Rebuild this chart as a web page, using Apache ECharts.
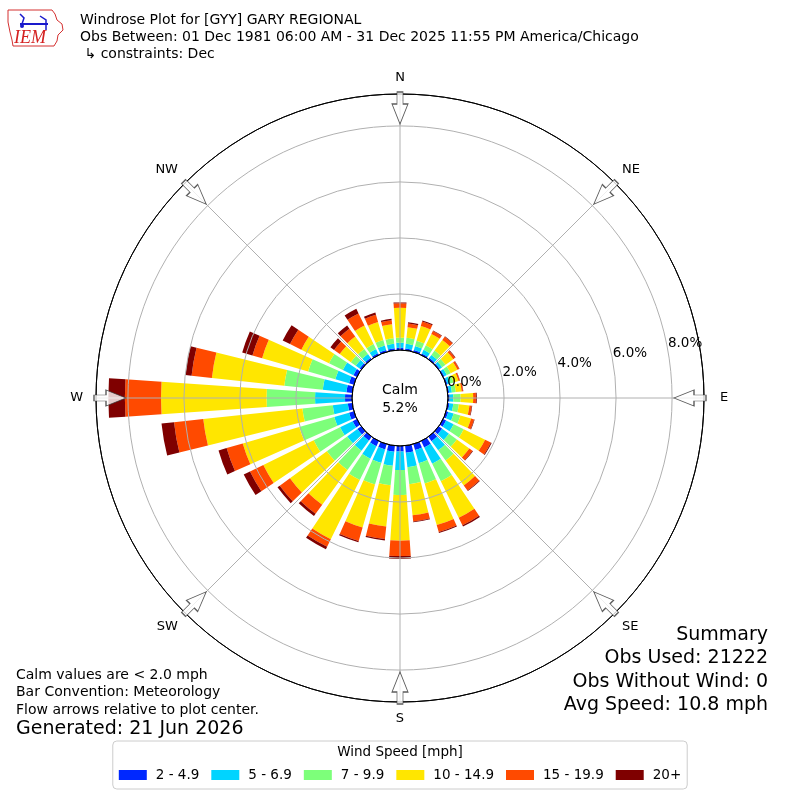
<!DOCTYPE html>
<html><head><meta charset="utf-8">
<script src="https://cdn.jsdelivr.net/npm/echarts@6/dist/echarts.min.js"></script>
<style>html,body{margin:0;padding:0;background:#fff}#c{width:800px;height:800px}</style>
</head><body><div id="c"></div>
<script>
// ---- data ----
const directions = [0,10,20,30,40,50,60,70,80,90,100,110,120,130,140,150,160,170,180,190,200,210,220,230,240,250,260,270,280,290,300,310,320,330,340,350];
const speedBins = ['2 - 4.9','5 - 6.9','7 - 9.9','10 - 14.9','15 - 19.9','20+'];
const binColors = ['#0028ff','#00d4ff','#7dff7a','#ffe600','#ff4a00','#7f0000'];
const pct2to5   = [.08,.06,.07,.06,.06,.05,.05,.05,.05, .06,.06,.08,.12,.15,.20,.25,.22,.25, .20,.22,.20,.20,.17,.17,.17,.18,.16, .25,.21,.18,.14,.07,.07,.07,.07,.07];
const pct5to7   = [.18,.17,.15,.14,.13,.10,.10,.10,.10, .13,.14,.20,.30,.30,.40,.65,.49,.52, .66,.50,.50,.50,.45,.45,.50,.55,.54, 1.07,.85,.51,.42,.17,.16,.16,.17,.16];
const pct7to10  = [.18,.22,.19,.18,.19,.15,.15,.13,.14, .26,.20,.25,.40,.35,.45,.70,.75,.61, .89,.70,.80,.85,.85,.90,1.05,1.30,1.09, 1.73,1.38,1.01,.55,.22,.22,.20,.20,.20];
const pct10to15 = [1.07,.38,.55,.45,.47,.34,.27,.18,.21, .45,.38,.40,.85,.55,1.10,1.45,1.55,1.12, 1.63,1.48,1.60,2.35,1.53,1.63,2.00,2.10,3.56, 3.77,2.60,1.71,1.10,.49,.55,.74,.67,.50];
const pct15to20 = [.16,.13,.17,.12,.14,.08,.07,.05,.05, .10,.08,.11,.23,.14,.22,.30,.26,.22, .55,.45,.50,.30,.40,.45,.53,.60,1.05, 1.29,.73,.36,.45,.25,.35,.48,.27,.15];
const pct20up   = [.03,.05,.04,.02,.02,.02,.01,.01,.01, .03,.02,.02,.03,.02,.03,.05,.03,.03, .10,.05,.05,.10,.10,.10,.25,.30,.45, .59,.22,.38,.29,.16,.14,.18,.08,.05];
const binData = [pct2to5, pct5to7, pct7to10, pct10to15, pct15to20, pct20up];
const compassAngles = [0,45,90,135,180,225,270,315];
const compassNames  = ['N','NE','E','SE','S','SW','W','NW'];
const ringTicks = [0,2,4,6,8];
const radiusMax = 9.14;
const arrowRadius = 8.64;
const calmPct = 5.2;
const headerLines = ['Windrose Plot for [GYY] GARY REGIONAL','Obs Between: 01 Dec 1981 06:00 AM - 31 Dec 2025 11:55 PM America/Chicago',' \u21b3 constraints: Dec'];
const noteLines = ['Calm values are < 2.0 mph','Bar Convention: Meteorology','Flow arrows relative to plot center.'];
const generatedText = 'Generated: 21 Jun 2026';
const summaryLines = ['Summary','Obs Used: 21222','Obs Without Wind: 0','Avg Speed: 10.8 mph'];

// ---- chart ----
const FONT = '"DejaVu Sans", sans-serif';
const CX = 400, CY = 398, R0 = 48, R1 = 304;
const chart = echarts.init(document.getElementById('c'), null, {renderer:'canvas'});
const gridGray = '#b0b0b0';

const graphics = [];
headerLines.forEach((t,i)=>graphics.push({type:'text', x:80, y:20+i*17, z:20,
  style:{text:t, font:'14px '+FONT, fill:'#000', textAlign:'left', textVerticalAlign:'middle'}}));
noteLines.forEach((t,i)=>graphics.push({type:'text', x:16, y:675+i*17.5, z:20,
  style:{text:t, font:'14px '+FONT, fill:'#000', textAlign:'left', textVerticalAlign:'middle'}}));
graphics.push({type:'text', x:16, y:729, z:20, style:{text:generatedText, font:'19px '+FONT, fill:'#000', textAlign:'left', textVerticalAlign:'middle'}});
summaryLines.forEach((t,i)=>graphics.push({type:'text', x:768, y:635+i*23.3, z:20,
  style:{text:t, font:'19px '+FONT, fill:'#000', textAlign:'right', textVerticalAlign:'middle'}}));
graphics.push({type:'text', x:CX, y:CY+1, z:20, style:{text:'Calm\n'+calmPct.toFixed(1)+'%', font:'14px '+FONT, fill:'#000', textAlign:'center', textVerticalAlign:'middle', lineHeight:18}});
graphics.push({type:'text', x:400, y:752, z:20, style:{text:'Wind Speed [mph]', font:'13.5px '+FONT, fill:'#000', textAlign:'center', textVerticalAlign:'middle'}});
// logo
graphics.push({type:'polygon', z:20, shape:{points:[[8,10],[52,10],[55,14],[57,20],[62,24],[63,30],[58,35],[57,41],[54,46],[13,46],[12,40],[10,32],[8,22]]},
  style:{fill:'none', stroke:'#d43030', lineWidth:1}});
graphics.push({type:'polyline', z:20, shape:{points:[[20,24],[48,24]]}, style:{stroke:'#1a1acc', lineWidth:2}});
graphics.push({type:'polyline', z:20, shape:{points:[[20,14],[24,18],[22,24]]}, style:{stroke:'#1a1acc', lineWidth:1.5}});
graphics.push({type:'polyline', z:20, shape:{points:[[40,16],[46,20],[46,30]]}, style:{stroke:'#1a1acc', lineWidth:1.5}});
graphics.push({type:'circle', z:20, shape:{cx:22, cy:26, r:2}, style:{fill:'#1a1acc'}});
graphics.push({type:'text', x:30, y:38, z:20, style:{text:'IEM', font:'italic 18px "Liberation Serif", serif', fill:'#d42020', textAlign:'center', textVerticalAlign:'middle'}});

const series = speedBins.map((name,i)=>({
  type:'bar', name, coordinateSystem:'polar', polarIndex:1, stack:'wind',
  data: binData[i], barCategoryGap:'22%', itemStyle:{color:binColors[i]}, z:2, silent:true
}));
series.push({
  type:'scatter', coordinateSystem:'polar', polarIndex:0, silent:true, z:10,
  symbol:'path://M-3,0 L3,0 L3,12 L8,12 L0,32 L-8,12 L-3,12 Z', symbolSize:[16,32],
  data: compassAngles.map(a=>({value:[arrowRadius, a], symbolRotate:-a})),
  itemStyle:{color:'#ffffff', borderColor:'#333333', borderWidth:1}
});

const labelRich = {
  e:{fontSize:13, color:'#000', fontFamily:FONT, padding:[0,0,0,6]},
  w:{fontSize:13, color:'#000', fontFamily:FONT, padding:[0,3,0,0]},
  d:{fontSize:13, color:'#000', fontFamily:FONT}
};

chart.setOption({
  animation:false,
  textStyle:{fontFamily:FONT},
  polar:[
    {center:[CX,CY], radius:[R0,R1]},
    {center:[CX,CY], radius:[R0,R1]},
    {center:[CX,CY], radius:[R0,R1]}
  ],
  angleAxis:[
    {polarIndex:0, type:'value', min:0, max:360, interval:45, startAngle:90, clockwise:true, z:5,
     axisLine:{show:true, lineStyle:{color:'#000', width:1}}, axisTick:{show:false},
     axisLabel:{show:true, margin:10, fontSize:13, color:'#000', fontFamily:FONT, rich:labelRich,
       formatter:v=>{const k=compassAngles.indexOf(v); if(k<0||v>=360) return '';
         const n=compassNames[k]; return n==='E'?'{e|E}':(n==='W'?'{w|W}':'{d|'+n+'}');}},
     splitLine:{show:true, lineStyle:{color:gridGray, width:1}}},
    {polarIndex:1, type:'category', data:directions.map(String), startAngle:95, clockwise:true,
     axisLine:{show:false}, axisTick:{show:false}, axisLabel:{show:false}, splitLine:{show:false}},
    {polarIndex:2, type:'value', min:0, max:360, startAngle:10, clockwise:true,
     axisLine:{show:false}, axisTick:{show:false}, axisLabel:{show:false}, splitLine:{show:false}}
  ],
  radiusAxis:[
    {polarIndex:0, type:'value', min:0, max:radiusMax, interval:2, z:5,
     axisLine:{show:false}, axisTick:{show:false}, axisLabel:{show:false},
     splitLine:{show:true, lineStyle:{color:['#000',gridGray,gridGray,gridGray,gridGray,'#000'], width:1}}},
    {polarIndex:1, type:'value', min:0, max:radiusMax,
     axisLine:{show:false}, axisTick:{show:false}, axisLabel:{show:false}, splitLine:{show:false}},
    {polarIndex:2, type:'value', min:0, max:radiusMax, interval:2, z:8,
     axisLine:{show:false}, axisTick:{show:false}, splitLine:{show:false},
     axisLabel:{show:true, margin:0, align:'left', verticalAlign:'bottom', fontSize:13.5, color:'#000', fontFamily:FONT,
       showMaxLabel:false, formatter:v=>ringTicks.indexOf(v)>=0 ? v.toFixed(1)+'%' : ''}}
  ],
  legend:{data:speedBins, left:'center', top:741, orient:'horizontal', icon:'rect',
    itemWidth:28, itemHeight:10, itemGap:12, padding:[27,6,7,6],
    borderColor:'#cccccc', borderWidth:1, borderRadius:4, backgroundColor:'#fff',
    textStyle:{fontSize:13.5, color:'#000', fontFamily:FONT, padding:[0,0,0,4]}},
  graphic: graphics,
  series
});
</script></body></html>
